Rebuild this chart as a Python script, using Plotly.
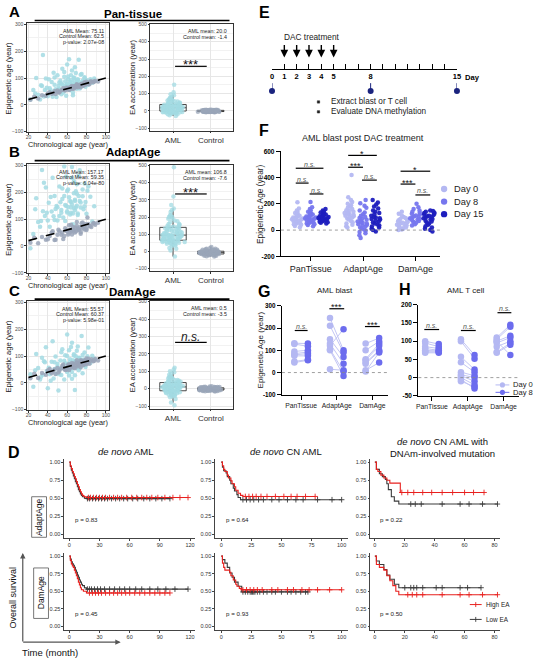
import plotly.graph_objects as go

W, H = 546, 661
FONT = "Arial, Liberation Sans, sans-serif"


def PX(x):
    return x / W


def PY(y):
    return 1 - y / H


def DX(a, b):
    return [a / W, b / W]


def DY(top, bot):
    return [1 - bot / H, 1 - top / H]


# ======================= DATA =======================
# --- Panels A-C: chronological vs epigenetic age ---
aml_age = [22, 25, 28, 30, 32, 34, 35, 37, 38, 40, 41, 42, 44, 45, 46, 47, 48, 49, 50, 51,
           52, 53, 54, 55, 56, 57, 58, 58, 59, 60, 60, 61, 62, 62, 63, 64, 64, 65, 65, 66,
           67, 67, 68, 68, 69, 70, 70, 71, 72, 73, 74, 75, 76, 77, 78, 79, 80, 82, 84, 86,
           27, 33, 36, 39, 43, 47, 50, 52, 54, 55, 57, 59, 60, 61, 63, 64, 65, 66, 67, 68,
           69, 70, 71, 72, 73, 74, 76, 78, 81, 88]
pan_aml = [20, 55, 100, 38, 20, 70, 186, 55, 98, 32, 95, 62, 85, 30, 120, 75, 58, 29, 110, 70,
           60, 90, 80, 135, 46, 105, 72, 88, 34, 150, 78, 95, 60, 170, 85, 75, 110, 65, 128, 36,
           70, 100, 90, 140, 76, 85, 60, 95, 168, 65, 73, 115, 90, 72, 100, 67, 92, 76, 95, 82,
           42, 73, 31, 64, 53, 102, 55, 82, 39, 75, 122, 59, 72, 106, 55, 92, 83, 46, 102, 76,
           119, 67, 93, 86, 61, 112, 82, 103, 75, 98]
adapt_aml = [-8, 45, 178, 90, 72, 284, 130, 112, 218, 95, 161, 72, 129, 255, 111, 187, 138, 149, 95, 321,
             112, 163, 134, 215, 106, 187, 93, 153, 259, 130, 205, 146, 182, 552, 118, 164, 124, 295, 155, 81,
             142, 242, 173, 133, 204, 150, 195, 121, 262, 168, 144, 395, 186, 137, 233, 164, 120, 222, 184, 91,
             137, 93, 236, 124, 183, 97, 145, 222, 124, 175, 297, 149, 125, 211, 168, 144, 255, 121, 197, 168,
             144, 230, 116, 187, 283, 162, 211, 148, 206, 148]
dam_aml = [32, -15, 108, 55, 12, 94, 30, 77, 133, -20, 56, 32, 79, 155, 16, 52, 98, 34, 70, -29,
           52, 83, 29, 125, 64, 12, 73, 103, 54, 180, 40, 71, 122, 27, 88, 54, 67, 150, 15, 84,
           107, 59, 80, -27, 99, 55, 75, 136, 47, 93, 74, 175, 36, 87, 113, 59, 85, 132, 74, 101,
           47, 23, 81, 44, 8, 77, 60, 32, 114, 55, 82, 54, 100, 46, 78, 134, 40, 74, 102, 28,
           81, 120, 63, 94, 55, 79, 104, 66, 99, 90]
ctrl_age = [22, 26, 30, 34, 38, 42, 45, 48, 50, 52, 54, 56, 58, 60, 61, 62, 63, 64, 65, 66,
            67, 68, 69, 70, 71, 72, 73, 74, 75, 76, 77, 78, 79, 80, 81, 83, 85, 87, 89, 92,
            40, 44, 47, 51, 55, 57, 59, 62, 64, 66, 68, 70, 72, 74, 76, 78, 80, 82, 84, 88]
pan_ctrl = [19, 30, 24, 36, 34, 47, 43, 40, 53, 47, 54, 62, 53, 58, 64, 55, 64, 60, 70, 65,
            61, 70, 66, 77, 66, 72, 70, 66, 79, 74, 72, 81, 75, 86, 79, 77, 87, 84, 89, 87,
            42, 41, 51, 46, 56, 55, 64, 58, 67, 60, 68, 74, 69, 76, 71, 84, 78, 78, 87, 87]
adapt_ctrl = [12, 31, 10, 34, 23, 37, 55, 23, 42, 55, 42, 26, 66, 55, 43, 77, 61, 54, 43, 71,
              59, 68, 54, 90, 65, 60, 70, 46, 85, 66, 73, 62, 81, 60, 106, 75, 71, 85, 79, 87,
              25, 49, 22, 61, 50, 37, 59, 50, 79, 58, 50, 75, 62, 52, 88, 72, 65, 82, 75, 85]
dam_ctrl = [17, 34, 18, 37, 30, 52, 42, 33, 55, 46, 54, 68, 48, 56, 67, 48, 65, 57, 74, 64,
            56, 72, 63, 84, 62, 73, 68, 58, 82, 73, 67, 83, 71, 91, 77, 71, 88, 81, 89, 83,
            46, 36, 50, 39, 64, 53, 49, 69, 58, 68, 54, 75, 69, 84, 68, 82, 69, 90, 82, 82]

clock_titles = ["Pan-tissue", "AdaptAge", "DamAge"]
scatter_stats = [["AML Mean: 75.11", "Control Mean: 62.5", "p-value: 2.07e-08"],
                 ["AML Mean: 157.17", "Control Mean: 59.35", "p-value: 6.04e-80"],
                 ["AML Mean: 55.57", "Control Mean: 60.37", "p-value: 5.98e-01"]]
box_stats = [["AML mean: 20.0", "Control mean: -1.4"],
             ["AML mean: 106.8", "Control mean: -7.6"],
             ["AML mean: 0.5", "Control mean: -3.5"]]
box_sig = ["***", "***", "n.s."]
groups = ["AML", "Control"]
age_ticks = [20, 40, 60, 80, 100]
epi_ticks = [-100, 0, 100, 200, 300]
accel_ticks = [-100, 0, 100, 200, 300, 400, 500]

# --- Panel E: timeline ---
timeline_days = [0, 1, 2, 3, 4, 5, 6, 7, 8, 9, 10, 11, 12, 13, 14, 15]
labeled_days = [0, 1, 2, 3, 4, 5, 8, 15]
dac_days = [1, 2, 3, 4, 5]
sample_days = [0, 8, 15]

# --- Panel F: AML blast post DAC treatment ---
clock_cats = ["PanTissue", "AdaptAge", "DamAge"]
f_days = ["Day 0", "Day 8", "Day 15"]
f_pan_d0 = [212, 165, 150, 138, 130, 122, 115, 110, 105, 100, 96, 92, 88, 85, 82, 80, 77, 74, 70, 66, 62, 58, 54, 50, 45, 40, 32, 22]
f_pan_d8 = [215, 175, 160, 150, 140, 132, 125, 118, 112, 108, 104, 100, 96, 92, 90, 87, 84, 80, 76, 72, 68, 64, 60, 55, 50, 45, 38, 30]
f_pan_d15 = [160, 150, 142, 135, 128, 122, 118, 114, 110, 106, 102, 99, 96, 93, 90, 88, 85, 82, 80, 77, 74, 71, 68, 64, 60, 56, 50]
f_adapt_d0 = [420, 250, 230, 215, 200, 190, 180, 170, 160, 152, 145, 140, 135, 130, 125, 120, 115, 110, 105, 100, 95, 88, 80, 70, 60, 50, 40, 30, 20]
f_adapt_d8 = [230, 205, 185, 170, 150, 135, 120, 110, 100, 92, 85, 78, 70, 65, 60, 55, 50, 45, 40, 35, 28, 20, 12, 5, -5, -15, -25, -40, -60]
f_adapt_d15 = [230, 210, 195, 180, 165, 150, 140, 130, 120, 110, 100, 95, 90, 85, 80, 72, 65, 58, 50, 42, 35, 28, 20, 10, 0, -10]
f_dam_d0 = [140, 125, 110, 100, 92, 85, 80, 75, 70, 65, 60, 56, 52, 48, 44, 40, 35, 30, 25, 20, 15, 10, 5, 0]
f_dam_d8 = [200, 175, 160, 150, 140, 132, 125, 118, 112, 106, 100, 95, 90, 85, 80, 75, 70, 62, 55, 45, 35]
f_dam_d15 = [150, 145, 140, 135, 130, 125, 120, 115, 110, 105, 100, 95, 90, 85, 80, 72, 65, 58, 50, 40, 30, 20, 10, 0, -10]
f_ticks = [-200, 0, 200, 400, 600]
f_sig = [  # (x0 px, x1 px, line y px, label)
    (297, 325, 166, "n.s."), (297, 310, 181, "n.s."), (311, 325, 192, "n.s."),
    (350, 379, 153, "*"), (350, 365, 165, "***"), (364, 379, 178, "n.s."),
    (403, 433, 169, "*"), (403, 418, 182, "***"), (418, 433, 193, "n.s."),
]

# --- Panel G: AML blast, paired Day 0 -> Day 8 ---
g_pan_d0 = [132, 128, 95, 85, 80, 75, 50, 45]
g_pan_d8 = [130, 118, 100, 92, 85, 75, 58, 55]
g_adapt_d0 = [245, 210, 150, 130, 120, 105, 100, 15]
g_adapt_d8 = [100, 90, 70, 40, 195, 5, -15, 10]
g_dam_d0 = [130, 100, 60, 55, 45, 40, 10, 5]
g_dam_d8 = [155, 140, 130, 120, 100, 95, 45, 90]
g_ticks = [-100, 0, 100, 200, 300]
g_sig = [(296, 309, 330, "n.s."), (331, 346, 308, "***"), (367, 382, 326, "***")]

# --- Panel H: AML T cell, paired Day 0 -> Day 8 ---
h_pan_d0 = [100, 95, 85, 80, 75, 70, 68, 72]
h_pan_d8 = [92, 85, 80, 75, 72, 70, 68, 74]
h_adapt_d0 = [105, 100, 57, 42, 15, 8, 5, 0, -5, -10]
h_adapt_d8 = [62, 52, 22, 15, 5, 0, -10, -20, -30, -25]
h_dam_d0 = [110, 105, 100, 95, 85, 70, 68, 100]
h_dam_d8 = [145, 140, 115, 110, 100, 95, 90, 62]
h_ticks = [-50, 0, 50, 100, 150, 200]
h_sig = [(427, 442, 329, "n.s."), (464, 479, 330, "n.s."), (501, 515, 312, "n.s.")]

# --- Panel D: Kaplan-Meier ---
km_col_titles = ["<i>de novo</i> AML", "<i>de novo</i> CN AML",
                 "<i>de novo</i> CN AML with<br>DNAm-involved mutation"]
km_row_titles = ["AdaptAge", "DamAge"]
km_pvals = [["p = 0.83", "p = 0.64", "p = 0.22"], ["p = 0.45", "p = 0.93", "p = 0.50"]]
km_xticks = [[0, 30, 60, 90, 120], [0, 25, 50, 75, 100], [0, 20, 40, 60, 80]]
km_yticks = [0, 0.25, 0.5, 0.75, 1.0]
km_ytext = ["0.00", "0.25", "0.50", "0.75", "1.00"]

# AdaptAge, de novo AML
km1_high_t = [0, 1, 2, 3, 4, 5, 6, 7, 8, 9, 10, 11, 12, 13, 14, 15, 17, 118]
km1_high_s = [1.0, 0.95, 0.91, 0.87, 0.84, 0.80, 0.77, 0.73, 0.69, 0.66, 0.62, 0.59, 0.56, 0.54, 0.53, 0.52, 0.51, 0.51]
km1_high_c = [19, 21, 24, 27, 30, 33, 36, 40, 44, 48, 52, 57, 62, 67, 72, 77, 82, 88, 95, 103, 110, 118]
km1_low_t = [0, 1, 2, 3, 4, 5, 6, 7, 8, 9, 10, 11, 12, 13, 15, 17, 100]
km1_low_s = [1.0, 0.94, 0.89, 0.85, 0.81, 0.77, 0.73, 0.70, 0.66, 0.62, 0.59, 0.56, 0.54, 0.52, 0.50, 0.495, 0.495]
km1_low_c = [18, 20, 23, 26, 29, 32, 35, 38, 42, 46, 50, 54, 58, 63, 68, 74, 80, 86, 92, 100]
# AdaptAge, de novo CN AML
km2_high_t = [0, 1, 2, 3, 5, 6, 8, 9, 11, 12, 14, 16, 18, 78]
km2_high_s = [1.0, 0.95, 0.9, 0.87, 0.82, 0.78, 0.74, 0.7, 0.66, 0.61, 0.57, 0.54, 0.525, 0.525]
km2_high_c = [20, 23, 26, 29, 33, 38, 45, 52, 58, 63, 70, 78]
km2_low_t = [0, 1, 2, 4, 5, 7, 8, 10, 11, 13, 14, 16, 100]
km2_low_s = [1.0, 0.93, 0.88, 0.85, 0.8, 0.75, 0.7, 0.64, 0.6, 0.55, 0.51, 0.48, 0.48]
km2_low_c = [18, 21, 24, 27, 31, 35, 42, 48, 55, 62, 68, 80, 92, 100]
# AdaptAge, de novo CN AML with DNAm-involved mutation
km3_high_t = [0, 1, 2, 4, 6, 8, 10, 17, 73]
km3_high_s = [1.0, 0.9, 0.87, 0.82, 0.78, 0.75, 0.71, 0.58, 0.58]
km3_high_c = [18, 22, 26, 32, 38, 45, 52, 60, 66, 73]
km3_low_t = [0, 1, 3, 5, 7, 8, 9, 11, 13, 16, 82]
km3_low_s = [1.0, 0.9, 0.84, 0.8, 0.76, 0.7, 0.62, 0.52, 0.46, 0.42, 0.42]
km3_low_c = [24, 27, 31, 45, 57, 63, 72, 82]
# DamAge, de novo AML
km4_high_t = [0, 1, 2, 3, 4, 5, 6, 7, 8, 9, 10, 11, 12, 14, 17, 100]
km4_high_s = [1.0, 0.94, 0.89, 0.86, 0.84, 0.8, 0.76, 0.72, 0.68, 0.63, 0.59, 0.55, 0.52, 0.5, 0.475, 0.475]
km4_high_c = [20, 23, 26, 29, 32, 36, 40, 44, 48, 52, 56, 60, 65, 70, 75, 80, 85, 90, 95, 100]
km4_low_t = [0, 1, 2, 3, 4, 5, 6, 7, 8, 9, 10, 11, 12, 13, 15, 17, 118]
km4_low_s = [1.0, 0.96, 0.92, 0.89, 0.87, 0.84, 0.8, 0.77, 0.73, 0.7, 0.66, 0.63, 0.6, 0.58, 0.55, 0.53, 0.53]
km4_low_c = [18, 20, 22, 25, 28, 31, 35, 40, 45, 50, 55, 60, 66, 72, 80, 88, 96, 105, 118]
# DamAge, de novo CN AML
km5_high_t = [0, 1, 2, 3, 7, 8, 10, 12, 13, 15, 17, 100]
km5_high_s = [1.0, 0.9, 0.84, 0.8, 0.77, 0.72, 0.66, 0.6, 0.57, 0.54, 0.52, 0.52]
km5_high_c = [18, 21, 24, 27, 30, 34, 42, 47, 55, 60, 67, 73, 80, 90, 100]
km5_low_t = [0, 1, 3, 5, 7, 9, 11, 14, 17, 72]
km5_low_s = [1.0, 0.95, 0.9, 0.84, 0.76, 0.7, 0.63, 0.57, 0.49, 0.49]
km5_low_c = [18, 20, 22, 24, 25, 26, 27, 28, 30, 32, 35, 38, 42, 45, 50, 55, 58, 62, 66, 70, 72]
# DamAge, de novo CN AML with DNAm-involved mutation
km6_high_t = [0, 1, 3, 6, 8, 10, 12, 14, 16, 82]
km6_high_s = [1.0, 0.88, 0.84, 0.8, 0.72, 0.65, 0.58, 0.5, 0.45, 0.45]
km6_high_c = [22, 25, 28, 32, 45, 57, 63, 72, 82]
km6_low_t = [0, 1, 3, 6, 8, 10, 13, 16, 71]
km6_low_s = [1.0, 0.93, 0.88, 0.81, 0.73, 0.67, 0.6, 0.55, 0.55]
km6_low_c = [20, 24, 26, 28, 32, 41, 45, 57, 62, 71]

# ======================= STYLE / LAYOUT =======================
CYAN = "#a3dbe3"
GRAYBLUE = "#9aa5b8"
F_COLORS = ["#b4b8f2", "#7676ee", "#1e1ebe"]
RED = "#e8201e"
DARK = "#3a3a3a"

traces = []
ann = []
shp = []
layout = dict(width=W, height=H, margin=dict(l=0, r=0, t=0, b=0),
              paper_bgcolor="white", plot_bgcolor="white", showlegend=False,
              boxmode="overlay", hovermode=False, font=dict(family=FONT, color="#222"))


def an(n):
    return "" if n == 1 else str(n)


def text(x, y, s, size, color="#111", xa="center", ya="middle", angle=0):
    ann.append(dict(x=PX(x), y=PY(y), xref="paper", yref="paper", text=s, showarrow=False,
                    xanchor=xa, yanchor=ya, textangle=angle,
                    font=dict(family=FONT, size=size, color=color)))


def line(x0, y0, x1, y1, w=1.2, color="black", dash="solid"):
    shp.append(dict(type="line", xref="paper", yref="paper", x0=PX(x0), x1=PX(x1),
                    y0=PY(y0), y1=PY(y1), line=dict(color=color, width=w, dash=dash)))


def circle(cx, cy, r, color):
    shp.append(dict(type="circle", xref="paper", yref="paper", x0=PX(cx - r), x1=PX(cx + r),
                    y0=PY(cy + r), y1=PY(cy - r), fillcolor=color, line=dict(width=0)))


def rect(x0, y0, x1, y1, color="#555", w=0.8, fill=None):
    d = dict(type="rect", xref="paper", yref="paper", x0=PX(x0), x1=PX(x1),
             y0=PY(y1), y1=PY(y0), line=dict(color=color, width=w))
    if fill:
        d["fillcolor"] = fill
    shp.append(d)


BW = dict(showline=True, mirror=True, linecolor="#333", linewidth=1, showgrid=True,
          gridcolor="#e6e6e6", gridwidth=0.6, zeroline=False, ticks="outside", ticklen=1.5,
          tickcolor="#333", tickwidth=0.6, tickfont=dict(size=5, color="#4d4d4d"))

# ---------- Panels A-C ----------
row_geo = [
    dict(sc=(19.3, 129.5), bx=(19.8, 128.1), title=10.5, tline=16.7, letter=8, sig=63),
    dict(sc=(162.0, 272.2), bx=(162.4, 270.0), title=150, tline=158.3, letter=149, sig=192),
    dict(sc=(300.3, 410.5), bx=(300.0, 409.0), title=291, tline=298.3, letter=290, sig=342),
]
clock_aml = [pan_aml, adapt_aml, dam_aml]
clock_ctrl = [pan_ctrl, adapt_ctrl, dam_ctrl]
letters = ["A", "B", "C"]

for i in range(3):
    g = row_geo[i]
    ns, nb = 2 * i + 1, 2 * i + 2
    xs, ys, xb, yb = "x" + an(ns), "y" + an(ns), "x" + an(nb), "y" + an(nb)
    # scatter axes
    layout["xaxis" + an(ns)] = dict(domain=DX(25, 107.7), range=[18.2, 102.8], anchor=ys,
                                    tickmode="array", tickvals=age_ticks, ticklabelstandoff=-2,
                                    minor=dict(tickvals=[30, 50, 70, 90], showgrid=True,
                                               gridcolor="#f2f2f2", gridwidth=0.5, ticks=""), **BW)
    layout["yaxis" + an(ns)] = dict(domain=DY(*g["sc"]), range=[-102, 305], anchor=xs,
                                    tickmode="array", tickvals=epi_ticks,
                                    minor=dict(tickvals=[-50, 50, 150, 250], showgrid=True,
                                               gridcolor="#f2f2f2", gridwidth=0.5, ticks=""), **BW)
    traces.append(go.Scatter(x=aml_age, y=clock_aml[i], mode="markers", xaxis=xs, yaxis=ys,
                             marker=dict(color=CYAN, size=4.5, opacity=0.85)))
    traces.append(go.Scatter(x=ctrl_age, y=clock_ctrl[i], mode="markers", xaxis=xs, yaxis=ys,
                             marker=dict(color=GRAYBLUE, size=4.5, opacity=0.85)))
    traces.append(go.Scatter(x=[age_ticks[0], age_ticks[-1]], y=[age_ticks[0], age_ticks[-1]],
                             mode="lines", xaxis=xs, yaxis=ys,
                             line=dict(color="black", width=1.6, dash="dash")))
    # box axes
    bwx = dict(BW)
    bwx["tickfont"] = dict(size=8, color="#333")
    layout["xaxis" + an(nb)] = dict(domain=DX(150, 234), range=[-0.6, 1.6], anchor=yb,
                                    type="category", categoryorder="array", categoryarray=groups, **bwx)
    layout["yaxis" + an(nb)] = dict(domain=DY(*g["bx"]), range=[-115, 505], anchor=xb,
                                    tickmode="array", tickvals=accel_ticks,
                                    minor=dict(tickvals=[-50, 50, 150, 250, 350, 450], showgrid=True,
                                               gridcolor="#f2f2f2", gridwidth=0.5, ticks=""), **BW)
    acc_aml = [e - a for e, a in zip(clock_aml[i], aml_age)]
    acc_ctrl = [e - a for e, a in zip(clock_ctrl[i], ctrl_age)]
    for grp, vals, col in [(groups[0], acc_aml, CYAN), (groups[1], acc_ctrl, GRAYBLUE)]:
        traces.append(go.Box(x=[grp] * len(vals), y=vals, xaxis=xb, yaxis=yb, boxpoints="all",
                             jitter=1, pointpos=0, width=0.7, whiskerwidth=0,
                             fillcolor="white", line=dict(color="#333", width=0.9),
                             marker=dict(color=col, size=4.5, opacity=0.75)))
    # texts
    top_s, bot_s = g["sc"]
    top_b = g["bx"][0]
    text(13, g["letter"], "<b>%s</b>" % letters[i], 15, "black")
    text(132, g["title"], "<b>%s</b>" % clock_titles[i], 11.5, "black")
    line(33, g["tline"], 230, g["tline"], 1.6)
    for k, s in enumerate(scatter_stats[i]):
        text(105, top_s + 7.5 + 5.8 * k, s, 5.3, "#222", xa="right")
    for k, s in enumerate(box_stats[i]):
        text(230, top_b + 7.5 + 6 * k, s, 5.3, "#222", xa="right")
    text(7, (top_s + bot_s) / 2, "Epigenetic age (year)", 7.6, "#222", angle=-90)
    text(66.5, bot_s + 12, "Chronological age (year)", 7.3, "#222")
    text(132, (g["bx"][0] + g["bx"][1]) / 2, "EA acceleration (year)", 7.6, "#222", angle=-90)
    line(175, g["sig"], 207, g["sig"], 1.2)
    if box_sig[i] == "n.s.":
        text(191, g["sig"] - 5, "<i>n.s.</i>", 12, "#222")
    else:
        text(191, g["sig"] - 1.5, box_sig[i], 13, "#111")

# ---------- Panel E ----------
text(265, 9, "<b>E</b>", 16, "black")
ticktext_e = [("<b>%d</b>" % d) if d in labeled_days else "" for d in timeline_days]
layout["xaxis7"] = dict(domain=DX(273, 460), range=[0, 15], anchor="free", position=PY(66),
                        showline=True, linecolor="black", linewidth=1.2, ticks="inside", ticklen=5,
                        tickwidth=1, tickcolor="black", tickmode="array", tickvals=timeline_days,
                        ticktext=ticktext_e, tickfont=dict(size=7.5, color="black"),
                        showgrid=False, zeroline=False)
layout["yaxis7"] = dict(domain=DY(28, 95), range=[0, 67], anchor="x7", visible=False)
stem_x, stem_y = [], []
for d in sample_days:
    stem_x += [d, d, None]
    stem_y += [95 - 80, 95 - 87, None]
traces.append(go.Scatter(x=stem_x, y=stem_y, mode="lines", xaxis="x7", yaxis="y7",
                         line=dict(color="#1a237e", width=1), cliponaxis=False))
traces.append(go.Scatter(x=sample_days, y=[95 - 88] * len(sample_days), mode="markers",
                         xaxis="x7", yaxis="y7", cliponaxis=False,
                         marker=dict(color="#1a237e", size=6)))
for d in dac_days:
    ann.append(dict(x=d, y=95 - 54, xref="x7", yref="y7", text="", showarrow=True,
                    ax=0, ay=-14, arrowhead=2, arrowsize=1.1, arrowwidth=1.4, arrowcolor="black"))
text(313, 33, "DAC treatment", 8.3, "#222")
text(466, 74, "<b>Day</b>", 7.6, "black", xa="left")
rect(318.8, 97.8, 321.2, 100.2, color="#222", w=0.5, fill="#222")
rect(318.8, 107.8, 321.2, 110.2, color="#222", w=0.5, fill="#222")
text(331, 99, "Extract blast or T cell", 8.2, "#222", xa="left")
text(331, 109, "Evaluate DNA methylation", 8.2, "#222", xa="left")

# ---------- Panel F ----------
text(265, 128, "<b>F</b>", 16, "black")
text(365, 135, "AML blast post DAC treatment", 9, "#222")
AX_CLASSIC = dict(showline=True, linecolor="black", linewidth=1.2, ticks="outside", ticklen=4,
                  tickwidth=1.2, tickcolor="black", showgrid=False, zeroline=False)
layout["xaxis8"] = dict(domain=DX(282, 443), range=[-0.57, 2.47], anchor="y8", tickmode="array",
                        tickvals=[0, 1, 2], ticktext=clock_cats, tickfont=dict(size=9, color="#222"),
                        **AX_CLASSIC)
layout["yaxis8"] = dict(domain=DY(149, 255), range=[-200, 600], anchor="x8", tickmode="array",
                        tickvals=f_ticks, ticktext=["<b>%d</b>" % v for v in f_ticks],
                        tickfont=dict(size=6.5, color="black"), **AX_CLASSIC)
shp.append(dict(type="line", xref="x8 domain", yref="y8", x0=0, x1=1, y0=0, y1=0,
                line=dict(color="#888", width=0.8, dash="dot")))
f_by_day = [[f_pan_d0, f_adapt_d0, f_dam_d0], [f_pan_d8, f_adapt_d8, f_dam_d8],
            [f_pan_d15, f_adapt_d15, f_dam_d15]]
f_off = [-0.25, 0.0, 0.25]
for d in range(3):
    xs_, ys_ = [], []
    for ci, vals in enumerate(f_by_day[d]):
        xs_ += [ci + f_off[d]] * len(vals)
        ys_ += vals
    traces.append(go.Box(x=xs_, y=ys_, xaxis="x8", yaxis="y8", boxpoints="all", jitter=1,
                         pointpos=0, width=0.22, fillcolor="rgba(0,0,0,0)",
                         line=dict(width=0, color="rgba(0,0,0,0)"),
                         marker=dict(color=F_COLORS[d], size=4.5, opacity=0.95)))
for k, name in enumerate(f_days):
    cy = 187 + 12.7 * k
    circle(447, cy, 3.2, F_COLORS[k])
    text(455, cy, name, 9.3, "#222", xa="left")
text(261, 202, "Epigenetic Age (year)", 8.3, "#222", angle=-90)


def sig_marks(items, small):
    for x0, x1, y, lab in items:
        line(x0, y, x1, y, 1.2)
        if lab == "n.s.":
            text((x0 + x1) / 2, y - 4, "<i>n.s.</i>", small, "#555")
        else:
            text((x0 + x1) / 2, y - 1.5, lab, small + 2, "#111")


sig_marks(f_sig, 7)


# ---------- Panels G / H ----------
def paired_panel(n, dom_x, dom_y, rng_x, rng_y, ticks, d0s, d8s, sig, tfs):
    xa, ya = "x" + str(n), "y" + str(n)
    layout["xaxis" + str(n)] = dict(domain=DX(*dom_x), range=rng_x, anchor=ya, tickmode="array",
                                    tickvals=[0, 1, 2], ticktext=clock_cats,
                                    tickfont=dict(size=6.8, color="#222"), **AX_CLASSIC)
    layout["yaxis" + str(n)] = dict(domain=DY(*dom_y), range=rng_y, anchor=xa, tickmode="array",
                                    tickvals=ticks, ticktext=["<b>%d</b>" % v for v in ticks],
                                    tickfont=dict(size=tfs, color="black"), **AX_CLASSIC)
    shp.append(dict(type="line", xref=xa + " domain", yref=ya, x0=0, x1=1, y0=0, y1=0,
                    line=dict(color="#888", width=0.8, dash="dot")))
    off = 0.19
    lx, ly, x0s, y0s, x8s, y8s = [], [], [], [], [], []
    for ci in range(3):
        for a, b in zip(d0s[ci], d8s[ci]):
            lx += [ci - off, ci + off, None]
            ly += [a, b, None]
        x0s += [ci - off] * len(d0s[ci])
        y0s += d0s[ci]
        x8s += [ci + off] * len(d8s[ci])
        y8s += d8s[ci]
    traces.append(go.Scatter(x=lx, y=ly, mode="lines", xaxis=xa, yaxis=ya,
                             line=dict(color="#c3c6f4", width=1)))
    traces.append(go.Scatter(x=x0s, y=y0s, mode="markers", xaxis=xa, yaxis=ya, cliponaxis=False,
                             marker=dict(color=F_COLORS[0], size=6.5)))
    traces.append(go.Scatter(x=x8s, y=y8s, mode="markers", xaxis=xa, yaxis=ya, cliponaxis=False,
                             marker=dict(color="#6c6cee", size=6.5)))
    sig_marks(sig, 7)


text(265, 291, "<b>G</b>", 16, "black")
text(337, 290, "AML blast", 8, "#222")
paired_panel(9, (283, 390), (305, 395), [-0.54, 2.43], [-100, 300], g_ticks,
             [g_pan_d0, g_adapt_d0, g_dam_d0], [g_pan_d8, g_adapt_d8, g_dam_d8], g_sig, 6.3)
text(261, 350, "Epigenetic Age (year)", 8, "#222", angle=-90)

text(407, 289, "<b>H</b>", 16, "black")
text(469, 290, "AML T cell", 8, "#222")
paired_panel(10, (421, 523), (304, 396), [-0.38, 2.44], [-50, 200], h_ticks,
             [h_pan_d0, h_adapt_d0, h_dam_d0], [h_pan_d8, h_adapt_d8, h_dam_d8], h_sig, 6.5)
for k, (name, col) in enumerate([("Day 0", F_COLORS[0]), ("Day 8", "#6c6cee")]):
    cy = 385 + 7.5 * k
    line(499, cy, 513, cy, 1, col)
    circle(506, cy, 2.6, col)
    text(515, cy, name, 7.6, "#222", xa="left")

# ---------- Panel D: Kaplan-Meier ----------
text(12, 453, "<b>D</b>", 16, "black")
km_cols = [dict(dom=(63, 195.2), rng=[-5, 125]), dict(dom=(215.6, 349.5), rng=[-5, 105]),
           dict(dom=(372.5, 504), rng=[-3, 84])]
km_rows = [(459.4, 539.7), (554.5, 632.5)]
km_sets = [
    [(km1_high_t, km1_high_s, km1_high_c, km1_low_t, km1_low_s, km1_low_c),
     (km2_high_t, km2_high_s, km2_high_c, km2_low_t, km2_low_s, km2_low_c),
     (km3_high_t, km3_high_s, km3_high_c, km3_low_t, km3_low_s, km3_low_c)],
    [(km4_high_t, km4_high_s, km4_high_c, km4_low_t, km4_low_s, km4_low_c),
     (km5_high_t, km5_high_s, km5_high_c, km5_low_t, km5_low_s, km5_low_c),
     (km6_high_t, km6_high_s, km6_high_c, km6_low_t, km6_low_s, km6_low_c)],
]


def surv_at(ts, ss, c):
    v = ss[0]
    for t, s in zip(ts, ss):
        if t <= c:
            v = s
    return v


AX_KM = dict(showline=True, linecolor="#444", linewidth=0.8, ticks="outside", ticklen=2,
             tickwidth=0.7, tickcolor="#444", showgrid=False, zeroline=False,
             tickfont=dict(size=5.5, color="#333"))
n = 11
for r in range(2):
    for c in range(3):
        xa, ya = "x%d" % n, "y%d" % n
        layout["xaxis%d" % n] = dict(domain=DX(*km_cols[c]["dom"]), range=km_cols[c]["rng"],
                                     anchor=ya, tickmode="array", tickvals=km_xticks[c], **AX_KM)
        layout["yaxis%d" % n] = dict(domain=DY(*km_rows[r]), range=[-0.05, 1.05], anchor=xa,
                                     tickmode="array", tickvals=km_yticks, ticktext=km_ytext, **AX_KM)
        ht, hs, hc, lt, ls, lc = km_sets[r][c]
        for ts, ss, cs, col in [(lt, ls, lc, DARK), (ht, hs, hc, RED)]:
            traces.append(go.Scatter(x=ts, y=ss, mode="lines", xaxis=xa, yaxis=ya,
                                     line=dict(shape="hv", color=col, width=1.1)))
            traces.append(go.Scatter(x=cs, y=[surv_at(ts, ss, v) for v in cs], mode="markers",
                                     xaxis=xa, yaxis=ya,
                                     marker=dict(symbol="cross-thin", size=4,
                                                 line=dict(color=col, width=0.9))))
        px_left = [72, 224, 380][c]
        py = [521, 616][r]
        text(px_left, py, km_pvals[r][c], 6.2, "#222", xa="left")
        n += 1

text(125, 452, km_col_titles[0], 9.5, "#111")
text(287, 452, km_col_titles[1], 9.5, "#111")
text(445, 448, km_col_titles[2], 9.5, "#111")
rect(30, 498, 45, 539)
text(37.5, 518.5, km_row_titles[0], 8.5, "#111", angle=-90)
rect(32, 570, 47, 621)
text(39.5, 595.5, km_row_titles[1], 8.5, "#111", angle=-90)
ann.append(dict(x=PX(21), y=PY(555), xref="paper", yref="paper", text="", showarrow=True,
                ax=0, ay=90, arrowhead=2, arrowsize=0.9, arrowwidth=1.2, arrowcolor="#555"))
ann.append(dict(x=PX(120), y=PY(645), xref="paper", yref="paper", text="", showarrow=True,
                ax=-99, ay=0, arrowhead=2, arrowsize=0.9, arrowwidth=1.2, arrowcolor="#555"))
text(11, 600, "Overall survival", 9, "#111", angle=-90)
text(49, 655, "Time (month)", 9.5, "#111")
for k, (name, col) in enumerate([("High EA", RED), ("Low EA", DARK)]):
    cy = 607 + 15 * k
    line(473, cy, 485, cy, 1, col)
    line(479, cy - 2.5, 479, cy + 2.5, 0.9, col)
    text(487, cy, name, 6.4, "#222", xa="left")

layout["annotations"] = ann
layout["shapes"] = shp
fig = go.Figure(data=traces, layout=layout)
fig.write_html("out.html")
